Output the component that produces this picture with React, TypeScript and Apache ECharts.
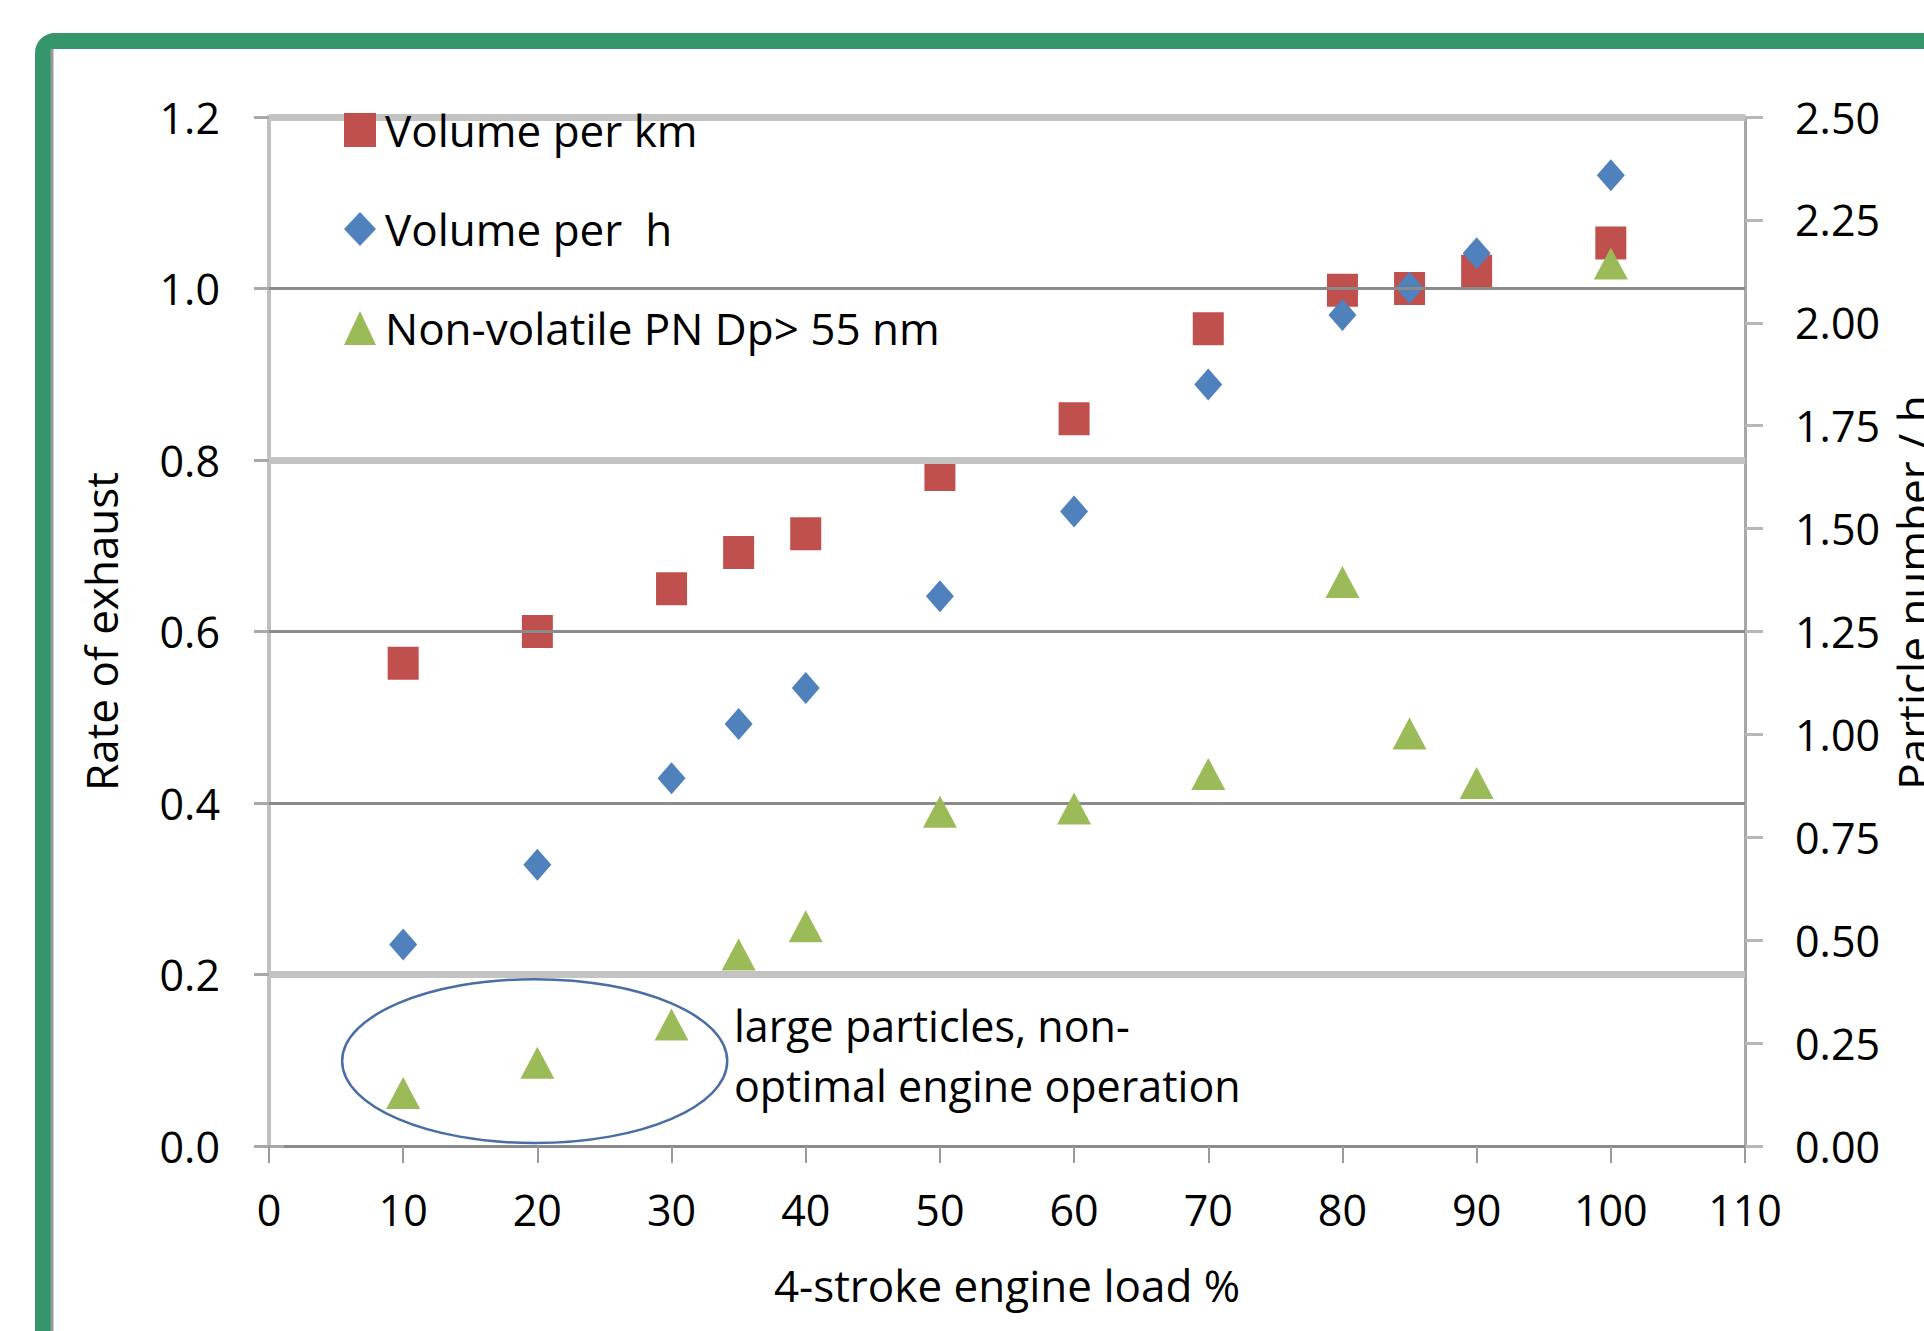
import React, { useEffect, useRef } from "react";
import * as echarts from "echarts";

// ---- data ----
const loads = [10, 20, 30, 35, 40, 50, 60, 70, 80, 85, 90, 100];
const volumePerKm = [0.563, 0.6, 0.65, 0.692, 0.714, 0.783, 0.848, 0.953, 0.998, 1.0, 1.02, 1.053];
const volumePerH = [0.235, 0.328, 0.429, 0.492, 0.534, 0.641, 0.74, 0.888, 0.969, 1.001, 1.041, 1.132];
const pnLarge = [0.129, 0.202, 0.295, 0.465, 0.534, 0.812, 0.82, 0.904, 1.37, 1.002, 0.882, 2.144];

const seriesNames = ["Volume per km", "Volume per  h", "Non-volatile PN Dp> 55 nm"];
const xAxisName = "4-stroke engine load %";
const leftAxisName = "Rate of exhaust";
const rightAxisName = "Particle number / h";

const xRange = [0, 110, 10];
const leftRange = [0, 1.2, 0.2];
const rightRange = [0, 2.5, 0.25];
const lightGridValues = [0.2, 0.8, 1.2];
const darkGridValues = [0.4, 0.6, 1.0];

const annotationLines = ["large particles, non-", "optimal engine operation"];
const ellipseCenter = [19.8, 0.099];
const ellipseRadius = [14.35, 0.0956];
const annotationAnchor = [34.65, 0.175];

const FONT = "Open Sans";
const RED = "#C0504D";
const BLUE = "#4F81BD";
const GREEN = "#9BBB59";
const FRAME = "#35956B";

export default function App() {
  const ref = useRef<HTMLDivElement>(null);

  useEffect(() => {
    document.body.style.margin = "0";
    document.body.style.overflow = "hidden";
    const chart = echarts.init(ref.current!, undefined, { renderer: "svg" });

    const gridLines = [
      ...lightGridValues.map((v) => ({ yAxis: v, lineStyle: { color: "#c3c3c3", width: 7, type: "solid" } })),
      ...darkGridValues.map((v) => ({ yAxis: v, lineStyle: { color: "#8a8a8a", width: 3, type: "solid" } })),
    ];

    const option: any = {
      animation: false,
      backgroundColor: "#ffffff",
      textStyle: { fontFamily: FONT },
      grid: { left: 269, top: 117, width: 1476, height: 1029, outerBoundsMode: "none", containLabel: false },
      legend: {
        data: [
          { name: seriesNames[0], icon: "rect" },
          { name: seriesNames[1], icon: "diamond" },
          { name: seriesNames[2], icon: "triangle" },
        ],
        orient: "vertical",
        left: 344,
        top: 98,
        itemWidth: 32,
        itemHeight: 34,
        itemGap: 35,
        padding: 0,
        selectedMode: false,
        z: 10,
        textStyle: {
          fontFamily: FONT,
          fontSize: 44,
          color: "#000",
          lineHeight: 46,
          padding: [0, 0, 18, 4],
        },
      },
      xAxis: {
        type: "value",
        min: xRange[0],
        max: xRange[1],
        interval: xRange[2],
        name: xAxisName,
        nameLocation: "middle",
        nameGap: 118,
        nameTextStyle: { fontFamily: FONT, fontSize: 44, color: "#000", lineHeight: 42 },
        axisLine: { show: true, lineStyle: { color: "#8a8a8a", width: 3 } },
        axisTick: { show: true, length: 17, lineStyle: { color: "#9a9a9a", width: 2 } },
        axisLabel: { fontFamily: FONT, fontSize: 43, color: "#000", margin: 42, lineHeight: 42 },
        splitLine: { show: false },
      },
      yAxis: [
        {
          type: "value",
          position: "left",
          min: leftRange[0],
          max: leftRange[1],
          interval: leftRange[2],
          name: leftAxisName,
          nameLocation: "middle",
          nameRotate: 90,
          nameGap: 147,
          nameTextStyle: { fontFamily: FONT, fontSize: 44, color: "#000", lineHeight: 42 },
          axisLine: { show: true, lineStyle: { color: "#c0c0c0", width: 4 } },
          axisTick: { show: true, length: 15, lineStyle: { color: "#a8a8a8", width: 3 } },
          axisLabel: {
            fontFamily: FONT,
            fontSize: 43,
            color: "#000",
            margin: 49,
            formatter: (v: number) => v.toFixed(1),
          },
          splitLine: { show: false },
        },
        {
          type: "value",
          position: "right",
          min: rightRange[0],
          max: rightRange[1],
          interval: rightRange[2],
          name: rightAxisName,
          nameLocation: "middle",
          nameRotate: 90,
          nameGap: 142,
          nameTextStyle: { fontFamily: FONT, fontSize: 44, color: "#000", lineHeight: 42, padding: [0, 0, 0, 78] },
          axisLine: { show: true, lineStyle: { color: "#a8a8a8", width: 3 } },
          axisTick: { show: true, length: 18, lineStyle: { color: "#b8b8b8", width: 3 } },
          axisLabel: {
            fontFamily: FONT,
            fontSize: 43,
            color: "#000",
            margin: 50,
            formatter: (v: number) => v.toFixed(2),
          },
          splitLine: { show: false },
        },
        {
          type: "value",
          position: "left",
          min: leftRange[0],
          max: leftRange[1],
          interval: leftRange[2],
          axisLine: { show: false },
          axisTick: { show: true, inside: true, length: 15, lineStyle: { color: "#a8a8a8", width: 3 } },
          axisLabel: { show: false },
          splitLine: { show: false },
        },
      ],
      series: [
        {
          name: "__grid",
          type: "line",
          data: [],
          yAxisIndex: 0,
          z: 1,
          silent: true,
          markLine: {
            silent: true,
            symbol: ["none", "none"],
            label: { show: false },
            animation: false,
            data: gridLines,
          },
        },
        {
          name: seriesNames[0],
          type: "scatter",
          yAxisIndex: 0,
          symbol: "rect",
          symbolSize: [31, 33],
          itemStyle: { color: RED, opacity: 1 },
          data: loads.map((x, i) => [x, volumePerKm[i]]),
          z: 3,
        },
        {
          name: seriesNames[1],
          type: "scatter",
          yAxisIndex: 0,
          symbol: "diamond",
          symbolSize: [28, 32],
          itemStyle: { color: BLUE, opacity: 1 },
          data: loads.map((x, i) => [x, volumePerH[i]]),
          z: 4,
        },
        {
          name: seriesNames[2],
          type: "scatter",
          yAxisIndex: 1,
          symbol: "triangle",
          symbolSize: [34, 32],
          itemStyle: { color: GREEN, opacity: 1 },
          data: loads.map((x, i) => [x, pnLarge[i]]),
          z: 5,
        },
      ],
    };

    chart.setOption(option);

    const toPx = (p: number[]) => chart.convertToPixel({ xAxisIndex: 0, yAxisIndex: 0 }, p) as number[];
    const c = toPx(ellipseCenter);
    const edge = toPx([ellipseCenter[0] + ellipseRadius[0], ellipseCenter[1] + ellipseRadius[1]]);
    const rx = Math.abs(edge[0] - c[0]);
    const ry = Math.abs(edge[1] - c[1]);
    const a = toPx(annotationAnchor);

    chart.setOption({
      graphic: [
        {
          type: "rect",
          id: "legendBg",
          z: 3,
          silent: true,
          shape: { x: 290, y: 100, width: 701, height: 270 },
          style: { fill: "#ffffff" },
        },
        {
          type: "rect",
          id: "frame",
          z: 20,
          silent: true,
          shape: { x: 43, y: 41, width: 2100, height: 1600, r: 12 },
          style: { fill: "none", stroke: FRAME, lineWidth: 16 },
        },
        {
          type: "line",
          id: "frameInner",
          z: 20,
          silent: true,
          shape: { x1: 52, y1: 49, x2: 52, y2: 1331 },
          style: { stroke: "#9a9a9a", lineWidth: 3 },
        },
        {
          type: "ellipse",
          id: "ellipse",
          z: 6,
          silent: true,
          shape: { cx: c[0], cy: c[1], rx, ry },
          style: { fill: "none", stroke: "#4a6ea3", lineWidth: 2.5 },
        },
        {
          type: "text",
          id: "annotation",
          z: 6,
          silent: true,
          x: a[0],
          y: a[1],
          style: {
            text: annotationLines.join("\n"),
            fontFamily: FONT,
            fontSize: 43,
            lineHeight: 60,
            fill: "#000",
            textAlign: "left",
            textVerticalAlign: "top",
          },
        },
      ],
    });

    return () => chart.dispose();
  }, []);

  return <div ref={ref} style={{ width: 1924, height: 1331 }} />;
}
